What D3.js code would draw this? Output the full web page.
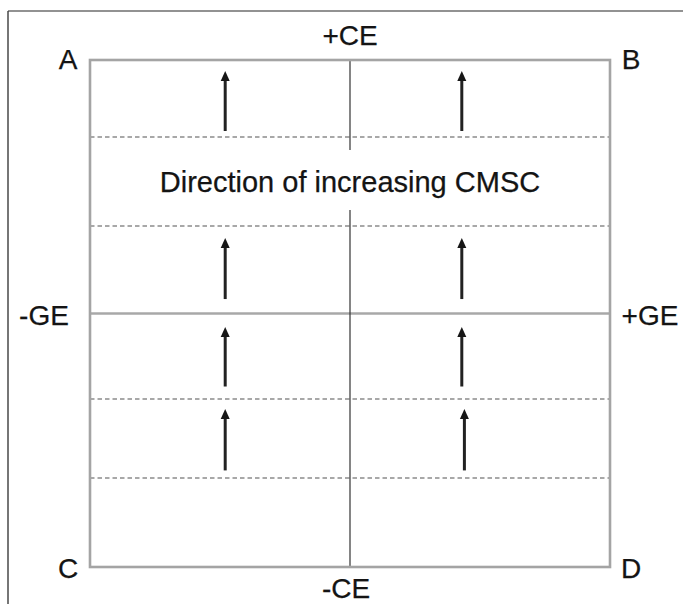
<!DOCTYPE html>
<html>
<head>
<meta charset="utf-8">
<script src="https://cdn.jsdelivr.net/npm/d3@7"></script>
<style>
  html, body { margin: 0; padding: 0; background: #fff; }
  svg { display: block; }
  text { font-family: "Liberation Sans", Arial, Helvetica, sans-serif; fill: #141414; stroke: #141414; stroke-width: 0.25; }
</style>
</head>
<body>
<svg id="chart" width="683" height="604"></svg>
<script>
// ---- data (in diagram units: GE on x, CE on y, both -10..10) ----
const corners = [
  { label: "A", x: -10, y: 10 },
  { label: "B", x: 10, y: 10 },
  { label: "C", x: -10, y: -10 },
  { label: "D", x: 10, y: -10 }
];
const axisLabels = [
  { label: "+CE", x: 0, y: 10, side: "top" },
  { label: "-CE", x: 0, y: -10, side: "bottom" },
  { label: "-GE", x: -10, y: 0, side: "left" },
  { label: "+GE", x: 10, y: 0, side: "right" }
];
const dashedLevels = [6.96, 3.45, -3.37, -6.49];
const arrows = [
  { x: -4.8, from: 7.2, to: 9.57 },
  { x: 4.3, from: 7.2, to: 9.57 },
  { x: -4.8, from: 0.57, to: 2.98 },
  { x: 4.3, from: 0.57, to: 2.98 },
  { x: -4.8, from: -2.88, to: -0.53 },
  { x: 4.3, from: -2.88, to: -0.53 },
  { x: -4.8, from: -6.19, to: -3.77 },
  { x: 4.4, from: -6.19, to: -3.77 }
];
const centerText = { label: "Direction of increasing CMSC", x: 0, y: 4.78 };
const verticalSegments = [[10, 6.45], [4.08, -10]];

// ---- layout ----
const svg = d3.select("#chart");
const x = d3.scaleLinear().domain([-10, 10]).range([90, 610]);
const y = d3.scaleLinear().domain([-10, 10]).range([567, 60]);

// outer frame (only top & left visible)
svg.append("line")
  .attr("x1", 8).attr("y1", 11).attr("x2", 683).attr("y2", 11)
  .attr("stroke", "#6e6e6e").attr("stroke-width", 1.6);
svg.append("line")
  .attr("x1", 8).attr("y1", 11).attr("x2", 8).attr("y2", 604)
  .attr("stroke", "#3c3c3c").attr("stroke-width", 1.4);

// dashed lines
svg.selectAll("line.dash").data(dashedLevels).join("line")
  .attr("class", "dash")
  .attr("x1", x(-10)).attr("x2", x(10))
  .attr("y1", d => y(d)).attr("y2", d => y(d))
  .attr("stroke", "#8c8c8c")
  .attr("stroke-width", 1.6)
  .attr("stroke-dasharray", "4.5,3");

// horizontal center line
svg.append("line")
  .attr("x1", x(-10)).attr("x2", x(10))
  .attr("y1", y(0)).attr("y2", y(0))
  .attr("stroke", "#a8a8a8")
  .attr("stroke-width", 2.6);

// vertical center line segments
svg.selectAll("line.vert").data(verticalSegments).join("line")
  .attr("class", "vert")
  .attr("x1", x(0)).attr("x2", x(0))
  .attr("y1", d => y(d[0])).attr("y2", d => y(d[1]))
  .attr("stroke", "#333")
  .attr("stroke-width", 1.2);

// box
svg.append("rect")
  .attr("x", x(-10)).attr("y", y(10))
  .attr("width", x(10) - x(-10)).attr("height", y(-10) - y(10))
  .attr("fill", "none")
  .attr("stroke", "#a4a4a4")
  .attr("stroke-width", 2.6);

// arrows
const ag = svg.selectAll("g.arrow").data(arrows).join("g").attr("class", "arrow");
ag.append("line")
  .attr("x1", d => x(d.x)).attr("x2", d => x(d.x))
  .attr("y1", d => y(d.from)).attr("y2", d => y(d.to) + 8)
  .attr("stroke", "#222")
  .attr("stroke-width", 3);
ag.append("path")
  .attr("d", d => {
    const cx = x(d.x), ty = y(d.to);
    return `M${cx},${ty} L${cx - 4.5},${ty + 10} L${cx + 4.5},${ty + 10} Z`;
  })
  .attr("fill", "#161616");

// center text
svg.append("text")
  .attr("x", x(centerText.x)).attr("y", y(centerText.y))
  .attr("text-anchor", "middle")
  .attr("font-size", 29)
  .text(centerText.label);

// corner labels
svg.selectAll("text.corner").data(corners).join("text")
  .attr("class", "corner")
  .attr("x", d => x(d.x) + (d.x < 0 ? -22 : 21))
  .attr("y", d => y(d.y) + (d.y > 0 ? 9 : 11))
  .attr("text-anchor", "middle")
  .attr("font-size", 28)
  .text(d => d.label);

// axis labels
const off = {
  top: [0, -15], bottom: [-4, 31], left: [-46, 11], right: [40, 11]
};
svg.selectAll("text.axis").data(axisLabels).join("text")
  .attr("class", "axis")
  .attr("x", d => x(d.x) + off[d.side][0])
  .attr("y", d => y(d.y) + off[d.side][1])
  .attr("text-anchor", "middle")
  .attr("font-size", 28)
  .text(d => d.label);
</script>
</body>
</html>
